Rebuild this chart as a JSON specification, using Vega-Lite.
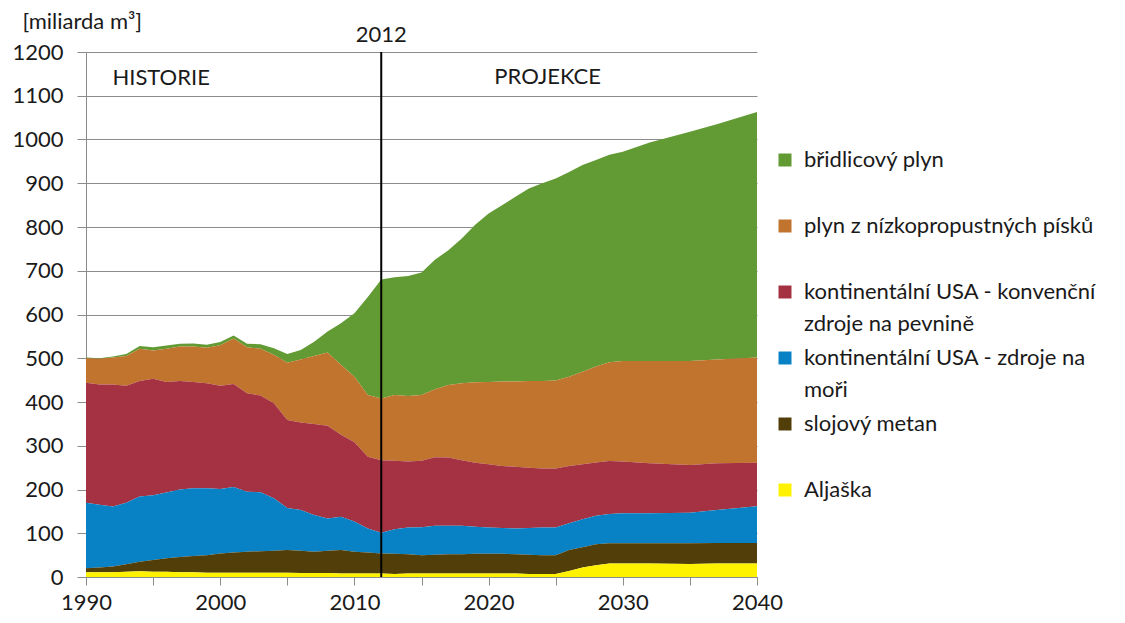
{
  "$schema": "https://vega.github.io/schema/vega-lite/v6.json",
  "width": 671,
  "height": 525,
  "autosize": {"type": "none"},
  "padding": {"left": 86, "top": 52, "right": 368, "bottom": 46},
  "background": "white",
  "config": {
    "view": {"stroke": null},
    "font": "Lato",
    "style": {"guide-label": {"lineHeight": 32}}
  },
  "datasets": {
    "hodnoty": [
      {"rok": 1990, "y": 11, "h": 9, "b": 150, "r": 274, "o": 56, "g": 2},
      {"rok": 1991, "y": 11, "h": 11, "b": 143, "r": 275, "o": 59, "g": 1},
      {"rok": 1992, "y": 11, "h": 13, "b": 137, "r": 279, "o": 62, "g": 2},
      {"rok": 1993, "y": 12, "h": 17, "b": 141, "r": 267, "o": 68, "g": 5},
      {"rok": 1994, "y": 13, "h": 22, "b": 149, "r": 264, "o": 74, "g": 6},
      {"rok": 1995, "y": 12, "h": 27, "b": 148, "r": 266, "o": 65, "g": 7},
      {"rok": 1996, "y": 12, "h": 31, "b": 150, "r": 253, "o": 76, "g": 7},
      {"rok": 1997, "y": 11, "h": 35, "b": 154, "r": 248, "o": 79, "g": 6},
      {"rok": 1998, "y": 11, "h": 37, "b": 155, "r": 243, "o": 81, "g": 7},
      {"rok": 1999, "y": 10, "h": 40, "b": 153, "r": 240, "o": 81, "g": 7},
      {"rok": 2000, "y": 10, "h": 44, "b": 147, "r": 236, "o": 93, "g": 7},
      {"rok": 2001, "y": 10, "h": 46, "b": 150, "r": 235, "o": 104, "g": 7},
      {"rok": 2002, "y": 10, "h": 48, "b": 137, "r": 225, "o": 105, "g": 8},
      {"rok": 2003, "y": 10, "h": 49, "b": 135, "r": 221, "o": 107, "g": 10},
      {"rok": 2004, "y": 10, "h": 50, "b": 120, "r": 217, "o": 111, "g": 15},
      {"rok": 2005, "y": 10, "h": 52, "b": 96, "r": 201, "o": 131, "g": 20},
      {"rok": 2006, "y": 9, "h": 51, "b": 93, "r": 200, "o": 144, "g": 22},
      {"rok": 2007, "y": 9, "h": 49, "b": 84, "r": 208, "o": 155, "g": 33},
      {"rok": 2008, "y": 9, "h": 51, "b": 74, "r": 212, "o": 167, "g": 48},
      {"rok": 2009, "y": 8, "h": 54, "b": 76, "r": 187, "o": 160, "g": 95},
      {"rok": 2010, "y": 8, "h": 50, "b": 69, "r": 181, "o": 150, "g": 145},
      {"rok": 2011, "y": 8, "h": 48, "b": 55, "r": 164, "o": 141, "g": 224},
      {"rok": 2012, "y": 8, "h": 46, "b": 47, "r": 166, "o": 141, "g": 272},
      {"rok": 2013, "y": 7, "h": 46, "b": 56, "r": 157, "o": 150, "g": 269},
      {"rok": 2014, "y": 8, "h": 44, "b": 61, "r": 151, "o": 150, "g": 274},
      {"rok": 2015, "y": 8, "h": 42, "b": 64, "r": 152, "o": 150, "g": 280},
      {"rok": 2016, "y": 8, "h": 43, "b": 66, "r": 157, "o": 155, "g": 296},
      {"rok": 2017, "y": 8, "h": 44, "b": 65, "r": 156, "o": 166, "g": 308},
      {"rok": 2018, "y": 8, "h": 44, "b": 65, "r": 150, "o": 176, "g": 331},
      {"rok": 2019, "y": 8, "h": 45, "b": 62, "r": 146, "o": 184, "g": 360},
      {"rok": 2020, "y": 8, "h": 45, "b": 60, "r": 145, "o": 188, "g": 385},
      {"rok": 2021, "y": 8, "h": 45, "b": 59, "r": 142, "o": 193, "g": 403},
      {"rok": 2022, "y": 8, "h": 44, "b": 59, "r": 141, "o": 195, "g": 422},
      {"rok": 2023, "y": 7, "h": 44, "b": 61, "r": 138, "o": 198, "g": 440},
      {"rok": 2024, "y": 7, "h": 43, "b": 63, "r": 135, "o": 200, "g": 452},
      {"rok": 2025, "y": 7, "h": 43, "b": 63, "r": 135, "o": 201, "g": 462},
      {"rok": 2026, "y": 14, "h": 48, "b": 61, "r": 131, "o": 204, "g": 468},
      {"rok": 2027, "y": 22, "h": 46, "b": 64, "r": 126, "o": 211, "g": 473},
      {"rok": 2028, "y": 27, "h": 48, "b": 65, "r": 122, "o": 219, "g": 472},
      {"rok": 2029, "y": 31, "h": 46, "b": 67, "r": 121, "o": 226, "g": 474},
      {"rok": 2030, "y": 31, "h": 46, "b": 69, "r": 118, "o": 230, "g": 478},
      {"rok": 2032, "y": 31, "h": 46, "b": 69, "r": 114, "o": 234, "g": 499},
      {"rok": 2035, "y": 30, "h": 47, "b": 70, "r": 109, "o": 238, "g": 524},
      {"rok": 2037, "y": 31, "h": 47, "b": 75, "r": 107, "o": 237, "g": 538},
      {"rok": 2040, "y": 31, "h": 47, "b": 84, "r": 99, "o": 241, "g": 561}
    ],
    "serie": [
      {"k": "g", "zdroj": "břidlicový plyn", "poradi": 6},
      {"k": "o", "zdroj": "plyn z nízkopropustných písků", "poradi": 5},
      {"k": "r", "zdroj": "kontinentální USA - konvenční zdroje na pevnině", "poradi": 4},
      {"k": "b", "zdroj": "kontinentální USA - zdroje na moři", "poradi": 3},
      {"k": "h", "zdroj": "slojový metan", "poradi": 2},
      {"k": "y", "zdroj": "Aljaška", "poradi": 1}
    ],
    "popisky": [
      {"rok": 1995.6, "hodnota": 1141, "popis": "HISTORIE"},
      {"rok": 2024.4, "hodnota": 1143, "popis": "PROJEKCE"},
      {"rok": 2012, "hodnota": 1239, "popis": "2012"}
    ],
    "hranice": [{"rok": 2012}]
  },
  "layer": [
    {
      "data": {"name": "hodnoty"},
      "transform": [
        {"fold": ["g", "o", "r", "b", "h", "y"], "as": ["k", "hodnota"]},
        {"lookup": "k", "from": {"data": {"name": "serie"}, "key": "k", "fields": ["zdroj", "poradi"]}}
      ],
      "mark": {"type": "area", "interpolate": "linear"},
      "encoding": {
        "x": {
          "field": "rok", "type": "quantitative",
          "scale": {"domain": [1990, 2040], "nice": false, "zero": false},
          "axis": {
            "values": [1990, 1995, 2000, 2005, 2010, 2015, 2020, 2025, 2030, 2035, 2040],
            "labelExpr": "datum.value % 10 == 0 ? datum.label : ''",
            "format": "d",
            "grid": false,
            "title": null,
            "domainColor": "#8c8c8c",
            "tickColor": "#8c8c8c",
            "tickSize": 8,
            "labelFontSize": 22,
            "labelColor": "#1a1a1a",
            "labelPadding": 7,
            "labelFlush": false,
            "labelOverlap": false
          }
        },
        "y": {
          "field": "hodnota", "type": "quantitative", "stack": "zero",
          "scale": {"domain": [0, 1200], "nice": false},
          "axis": {
            "values": [0, 100, 200, 300, 400, 500, 600, 700, 800, 900, 1000, 1100, 1200],
            "format": "d",
            "grid": true,
            "gridColor": "#8c8c8c",
            "gridWidth": 1,
            "domainColor": "#8c8c8c",
            "tickColor": "#8c8c8c",
            "tickSize": 9,
            "labelFontSize": 22,
            "labelColor": "#1a1a1a",
            "labelPadding": 14,
            "title": "[miliarda m³]",
            "titleAngle": 0,
            "titleAlign": "left",
            "titleBaseline": "alphabetic",
            "titleX": -64,
            "titleY": -24,
            "titleFontSize": 22,
            "titleFontWeight": "normal",
            "titleColor": "#1a1a1a"
          }
        },
        "color": {
          "field": "zdroj", "type": "nominal",
          "scale": {
            "domain": ["břidlicový plyn", "plyn z nízkopropustných písků", "kontinentální USA - konvenční zdroje na pevnině", "kontinentální USA - zdroje na moři", "slojový metan", "Aljaška"],
            "range": ["#629a34", "#c1742d", "#a43242", "#0882c4", "#523e08", "#fff200"]
          },
          "legend": {
            "title": null,
            "orient": "none",
            "legendX": 688,
            "legendY": 97,
            "symbolType": "square",
            "symbolSize": 169,
            "symbolStrokeWidth": 0,
            "symbolOpacity": 1,
            "labelFontSize": 22,
            "labelColor": "#1a1a1a",
            "labelOffset": 8,
            "labelLimit": 400,
            "gridAlign": "all",
            "rowPadding": 12,
            "labelExpr": "datum.label == 'kontinentální USA - konvenční zdroje na pevnině' ? ['kontinentální USA - konvenční', 'zdroje na pevnině'] : datum.label == 'kontinentální USA - zdroje na moři' ? ['kontinentální USA - zdroje na', 'moři'] : datum.label"
          }
        },
        "order": {"field": "poradi", "type": "quantitative"}
      }
    },
    {
      "data": {"name": "hranice"},
      "mark": {"type": "rule", "color": "#000000", "strokeWidth": 2},
      "encoding": {
        "x": {"field": "rok", "type": "quantitative", "scale": {"domain": [1990, 2040], "nice": false, "zero": false}}
      }
    },
    {
      "data": {"name": "popisky"},
      "mark": {"type": "text", "fontSize": 22, "color": "#1a1a1a", "align": "center", "baseline": "middle"},
      "encoding": {
        "x": {"field": "rok", "type": "quantitative", "scale": {"domain": [1990, 2040], "nice": false, "zero": false}},
        "y": {"field": "hodnota", "type": "quantitative", "scale": {"domain": [0, 1200], "nice": false}},
        "text": {"field": "popis"}
      }
    }
  ]
}
